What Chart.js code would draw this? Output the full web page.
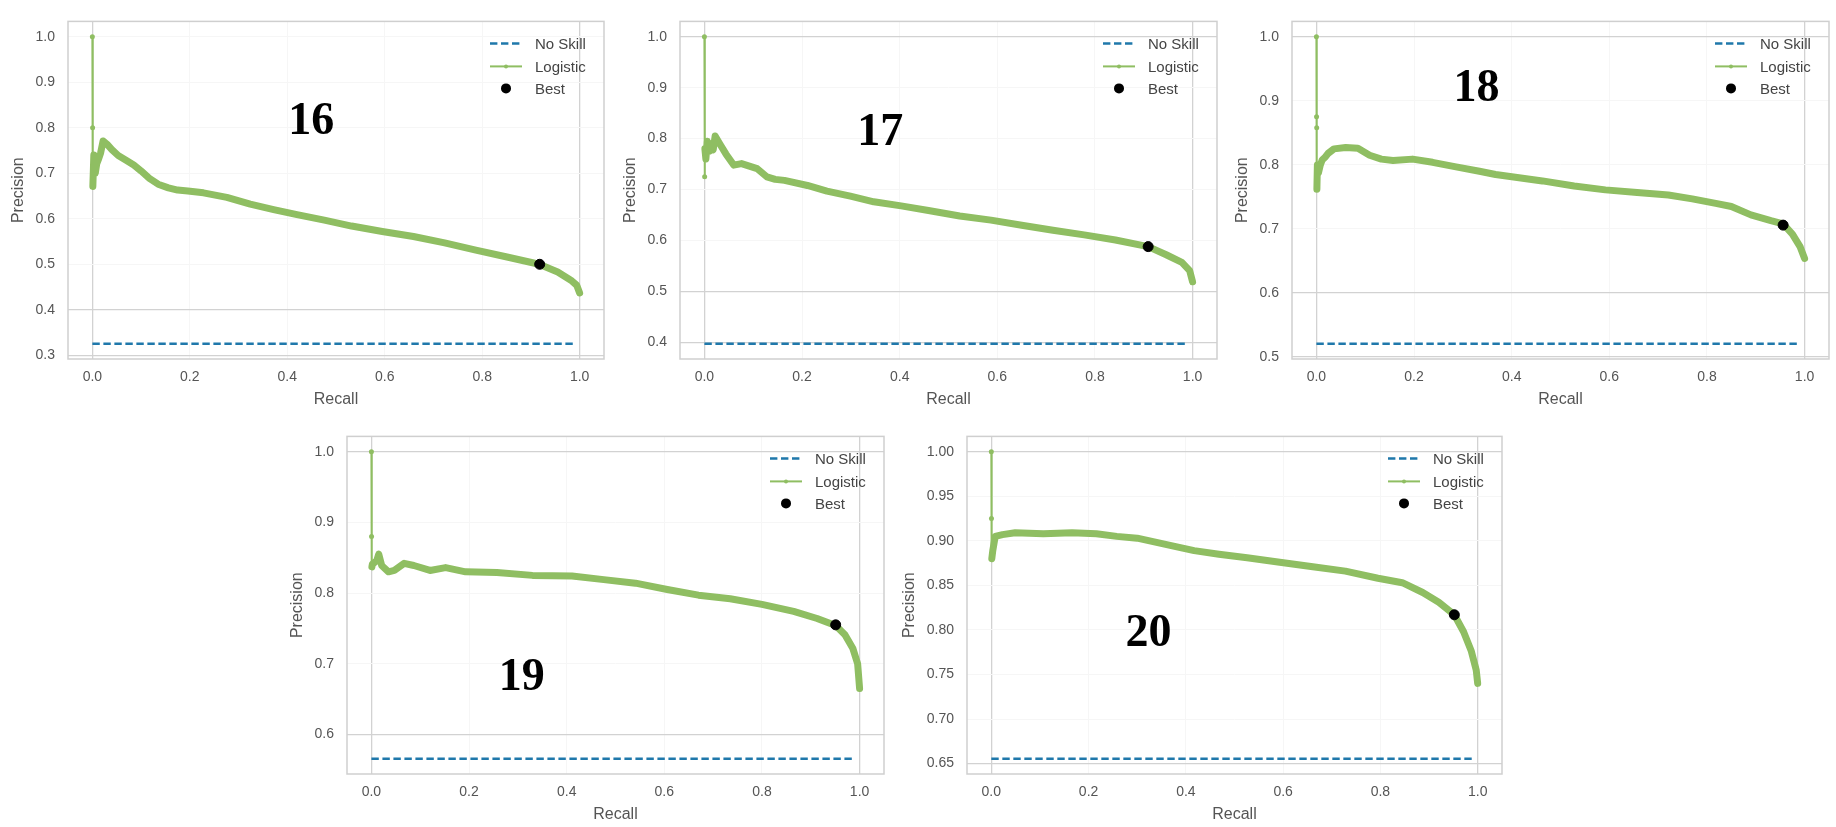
<!DOCTYPE html>
<html>
<head>
<meta charset="utf-8">
<title>Precision-Recall curves</title>
<script src="https://cdn.jsdelivr.net/npm/chart.js@4.4.0/dist/chart.umd.min.js"></script>
<style>
  html, body { margin: 0; padding: 0; background: #fff; }
  body { width: 1836px; height: 827px; position: relative; overflow: hidden; }
  canvas { position: absolute; }
</style>
</head>
<body>
<canvas id="c16"></canvas>
<canvas id="c17"></canvas>
<canvas id="c18"></canvas>
<canvas id="c19"></canvas>
<canvas id="c20"></canvas>
<script>
/* PR curves, five panels */

const panelNames = ['16', '17', '18', '19', '20'];

const recall16 = [0, 0.0005, 0.001, 0.003, 0.006, 0.009, 0.013, 0.017, 0.022, 0.03, 0.04, 0.053, 0.07, 0.085, 0.1, 0.117, 0.135, 0.156, 0.175, 0.196, 0.228, 0.276, 0.324, 0.372, 0.42, 0.476, 0.532, 0.595, 0.659, 0.723, 0.787, 0.851, 0.917, 0.955, 0.982, 0.994, 1.0];
const prec16 = [1.0, 0.8, 0.671, 0.74, 0.70, 0.721, 0.732, 0.745, 0.771, 0.764, 0.752, 0.739, 0.728, 0.718, 0.705, 0.689, 0.676, 0.668, 0.663, 0.661, 0.657, 0.647, 0.632, 0.620, 0.609, 0.597, 0.584, 0.572, 0.561, 0.547, 0.531, 0.516, 0.500, 0.483, 0.465, 0.454, 0.437];

const recall17 = [0, 0.0005, 0.001, 0.003, 0.006, 0.01, 0.014, 0.018, 0.022, 0.032, 0.044, 0.06, 0.076, 0.092, 0.108, 0.128, 0.145, 0.164, 0.211, 0.251, 0.299, 0.347, 0.403, 0.459, 0.523, 0.587, 0.65, 0.714, 0.778, 0.842, 0.909, 0.946, 0.978, 0.994, 1.0];
const prec17 = [1.0, 0.725, 0.78, 0.76, 0.795, 0.775, 0.79, 0.778, 0.805, 0.789, 0.77, 0.748, 0.751, 0.746, 0.741, 0.725, 0.72, 0.718, 0.708, 0.697, 0.687, 0.676, 0.668, 0.659, 0.648, 0.640, 0.630, 0.620, 0.611, 0.601, 0.588, 0.572, 0.557, 0.541, 0.519];

const recall18 = [0, 0.0003, 0.0006, 0.001, 0.002, 0.004, 0.008, 0.012, 0.018, 0.024, 0.036, 0.06, 0.085, 0.109, 0.133, 0.157, 0.197, 0.238, 0.286, 0.334, 0.367, 0.415, 0.463, 0.528, 0.592, 0.657, 0.721, 0.77, 0.818, 0.85, 0.89, 0.931, 0.956, 0.975, 0.991, 1.0];
const prec18 = [1.0, 0.875, 0.858, 0.762, 0.80, 0.787, 0.80, 0.808, 0.812, 0.818, 0.825, 0.827, 0.826, 0.815, 0.809, 0.807, 0.809, 0.804, 0.797, 0.79, 0.785, 0.78, 0.775, 0.767, 0.761, 0.757, 0.753, 0.747, 0.74, 0.735, 0.722, 0.713, 0.708, 0.692, 0.672, 0.654];

const recall19 = [0, 0.0003, 0.001, 0.002, 0.006, 0.011, 0.015, 0.021, 0.035, 0.047, 0.067, 0.087, 0.12, 0.152, 0.193, 0.257, 0.33, 0.411, 0.476, 0.541, 0.606, 0.67, 0.735, 0.8, 0.865, 0.913, 0.951, 0.97, 0.986, 0.996, 1.0];
const prec19 = [1.0, 0.88, 0.837, 0.841, 0.843, 0.846, 0.855, 0.839, 0.83, 0.832, 0.842, 0.839, 0.832, 0.836, 0.83, 0.829, 0.825, 0.824, 0.819, 0.814, 0.805, 0.797, 0.792, 0.784, 0.774, 0.764, 0.754, 0.741, 0.722, 0.70, 0.665];

const recall20 = [0, 0.0003, 0.001, 0.003, 0.008, 0.023, 0.049, 0.107, 0.166, 0.216, 0.258, 0.3, 0.342, 0.384, 0.417, 0.468, 0.526, 0.593, 0.661, 0.728, 0.795, 0.845, 0.887, 0.92, 0.952, 0.971, 0.987, 0.997, 1.0];
const prec20 = [1.0, 0.925, 0.88, 0.889, 0.905, 0.907, 0.909, 0.908, 0.909, 0.908, 0.905, 0.903, 0.898, 0.893, 0.889, 0.885, 0.881, 0.876, 0.871, 0.866, 0.858, 0.853, 0.842, 0.831, 0.817, 0.798, 0.776, 0.755, 0.74];

const noSkill = [0.3256, 0.3975, 0.521, 0.5656, 0.6555];
const bestRecall = [0.918, 0.909, 0.956, 0.951, 0.952];
const bestPrec = [0.500, 0.588, 0.706, 0.755, 0.817];

const xTicks = [0, 0.2, 0.4, 0.6, 0.8, 1.0];
const yTicks16 = [0.3, 0.4, 0.5, 0.6, 0.7, 0.8, 0.9, 1.0];
const yTicks17 = [0.4, 0.5, 0.6, 0.7, 0.8, 0.9, 1.0];
const yTicks18 = [0.5, 0.6, 0.7, 0.8, 0.9, 1.0];
const yTicks19 = [0.6, 0.7, 0.8, 0.9, 1.0];
const yTicks20 = [0.65, 0.70, 0.75, 0.80, 0.85, 0.90, 0.95, 1.00];

const legendLabels = ['No Skill', 'Logistic', 'Best'];

/* layout / style */
const SANS = '"Liberation Sans", Arial, sans-serif';
const BLUE = '#1f78ab';
const GREEN = '#8fbe62';
const GRID_STRONG = '#d2d2d2';
const GRID_FAINT = '#f6f6f6';

const panels = [
  { id: 'c16', rec: recall16, prec: prec16, yTicks: yTicks16, dec: 1, strongY: [0.3, 0.4],
    frame: { l: 68, t: 10, r: 604, b: 359 }, tag: { x: 0.449, y: 0.812 } },
  { id: 'c17', rec: recall17, prec: prec17, yTicks: yTicks17, dec: 1, strongY: [0.4, 0.5, 1.0],
    frame: { l: 680, t: 10, r: 1217, b: 359 }, tag: { x: 0.36, y: 0.81 } },
  { id: 'c18', rec: recall18, prec: prec18, yTicks: yTicks18, dec: 1, strongY: [0.5, 0.6, 1.0],
    frame: { l: 1292, t: 10, r: 1829, b: 359 }, tag: { x: 0.328, y: 0.918 } },
  { id: 'c19', rec: recall19, prec: prec19, yTicks: yTicks19, dec: 1, strongY: [0.6, 1.0],
    frame: { l: 347, t: 425, r: 884, b: 774 }, tag: { x: 0.308, y: 0.679 } },
  { id: 'c20', rec: recall20, prec: prec20, yTicks: yTicks20, dec: 2, strongY: [0.65, 1.0],
    frame: { l: 967, t: 425, r: 1502, b: 774 }, tag: { x: 0.323, y: 0.795 } }
];

const near = (list, v) => list.some(s => Math.abs(s - v) < 1e-6);

const framePlugin = {
  id: 'frame',
  beforeDatasetsDraw(chart) {
    const { ctx, chartArea: a } = chart;
    ctx.save();
    ctx.strokeStyle = '#cfcfcf';
    ctx.lineWidth = 1.5;
    ctx.strokeRect(a.left, a.top, a.right - a.left, a.bottom - a.top);
    ctx.restore();
  }
};

const tagPlugin = {
  id: 'tag',
  afterDatasetsDraw(chart, args, opts) {
    const { ctx, scales: { x, y } } = chart;
    ctx.save();
    ctx.font = 'bold 46px "Liberation Serif", "Times New Roman", serif';
    ctx.fillStyle = '#000';
    ctx.textAlign = 'center';
    ctx.textBaseline = 'middle';
    ctx.fillText(opts.text, x.getPixelForValue(opts.x), y.getPixelForValue(opts.y));
    ctx.restore();
  }
};

const legendPlugin = {
  id: 'prLegend',
  afterDraw(chart) {
    const { ctx, chartArea: a } = chart;
    const x0 = a.right - 114, x1 = a.right - 82, tx = a.right - 69;
    const rows = [a.top + 22, a.top + 45, a.top + 67];
    ctx.save();
    // No Skill
    ctx.strokeStyle = BLUE; ctx.lineWidth = 2.5; ctx.setLineDash([7.4, 3.6]);
    ctx.beginPath(); ctx.moveTo(x0, rows[0]); ctx.lineTo(x1, rows[0]); ctx.stroke();
    ctx.setLineDash([]);
    // Logistic
    ctx.strokeStyle = GREEN; ctx.lineWidth = 2;
    ctx.beginPath(); ctx.moveTo(x0, rows[1]); ctx.lineTo(x1, rows[1]); ctx.stroke();
    ctx.fillStyle = GREEN;
    ctx.beginPath(); ctx.arc((x0 + x1) / 2, rows[1], 2, 0, Math.PI * 2); ctx.fill();
    // Best
    ctx.fillStyle = '#000';
    ctx.beginPath(); ctx.arc((x0 + x1) / 2, rows[2], 5, 0, Math.PI * 2); ctx.fill();
    // texts
    ctx.font = '15px ' + SANS;
    ctx.fillStyle = '#444';
    ctx.textBaseline = 'middle';
    legendLabels.forEach((t, i) => ctx.fillText(t, tx, rows[i] + 1));
    ctx.restore();
  }
};

function makePanel(p, i) {
  const yW = p.dec === 2 ? 70 : 62;
  const padT = 10, padR = 10, xH = 52;
  const w = (p.frame.r - p.frame.l) + yW + padR;
  const h = (p.frame.b - p.frame.t) + padT + xH;
  const canvas = document.getElementById(p.id);
  canvas.width = w; canvas.height = h;
  canvas.style.width = w + 'px'; canvas.style.height = h + 'px';
  canvas.style.left = (p.frame.l - yW) + 'px';
  canvas.style.top = (p.frame.t - padT) + 'px';

  const ns = noSkill[i];
  const span = 1 - ns;
  const yMin = ns - 0.05 * span, yMax = 1 + 0.05 * span;

  const curve = p.rec.map((r, k) => ({ x: r, y: p.prec[k] }));

  return new Chart(canvas, {
    type: 'line',
    data: {
      datasets: [
        {
          label: legendLabels[0],
          data: [{ x: 0, y: ns }, { x: 0.99, y: ns }],
          borderColor: BLUE, borderWidth: 2.5, borderDash: [7.4, 3.6],
          pointRadius: 0, order: 2
        },
        {
          label: legendLabels[1],
          data: curve,
          borderColor: GREEN, backgroundColor: GREEN,
          borderWidth: 7, borderJoinStyle: 'round', borderCapStyle: 'round',
          pointRadius: (c) => (c.raw && c.raw.x <= 0.0006 ? 2.5 : 0),
          pointBorderWidth: 0,
          segment: {
            borderWidth: (c) => (c.p1.parsed.x <= 0.001 ? 2 : 7)
          },
          order: 1
        },
        {
          label: legendLabels[2],
          type: 'scatter',
          data: [{ x: bestRecall[i], y: bestPrec[i] }],
          backgroundColor: '#000', borderColor: '#000',
          pointRadius: 5, showLine: false, order: 0
        }
      ]
    },
    options: {
      responsive: false,
      animation: false,
      events: [],
      layout: { padding: { top: padT, right: padR, left: 0, bottom: 0 } },
      plugins: {
        legend: { display: false },
        tooltip: { enabled: false },
        tag: { text: panelNames[i], x: p.tag.x, y: p.tag.y }
      },
      scales: {
        x: {
          type: 'linear', min: -0.05, max: 1.05,
          afterBuildTicks: (s) => { s.ticks = xTicks.map(v => ({ value: v })); },
          afterFit: (s) => { s.height = xH; },
          ticks: {
            callback: (v) => Number(v).toFixed(1),
            font: { family: SANS, size: 14 }, color: '#555', padding: 10, maxRotation: 0
          },
          grid: {
            drawTicks: false,
            color: (c) => (near([0, 1], c.tick.value) ? GRID_STRONG : GRID_FAINT),
            lineWidth: (c) => (near([0, 1], c.tick.value) ? 1.3 : 1)
          },
          border: { display: false },
          title: {
            display: true, text: 'Recall', color: '#555',
            font: { family: SANS, size: 16 }, padding: { top: 0, bottom: 2 }
          }
        },
        y: {
          type: 'linear', min: yMin, max: yMax,
          afterBuildTicks: (s) => { s.ticks = p.yTicks.map(v => ({ value: v })); },
          afterFit: (s) => { s.width = yW; },
          ticks: {
            callback: (v) => Number(v).toFixed(p.dec),
            font: { family: SANS, size: 14 }, color: '#555', padding: 13
          },
          grid: {
            drawTicks: false,
            color: (c) => (near(p.strongY, c.tick.value) ? GRID_STRONG : GRID_FAINT),
            lineWidth: (c) => (near(p.strongY, c.tick.value) ? 1.3 : 1)
          },
          border: { display: false },
          title: {
            display: true, text: 'Precision', color: '#555',
            font: { family: SANS, size: 16 }, padding: { top: 3, bottom: 0 }
          }
        }
      }
    },
    plugins: [framePlugin, tagPlugin, legendPlugin]
  });
}

panels.forEach((p, i) => makePanel(p, i));
</script>
</body>
</html>
